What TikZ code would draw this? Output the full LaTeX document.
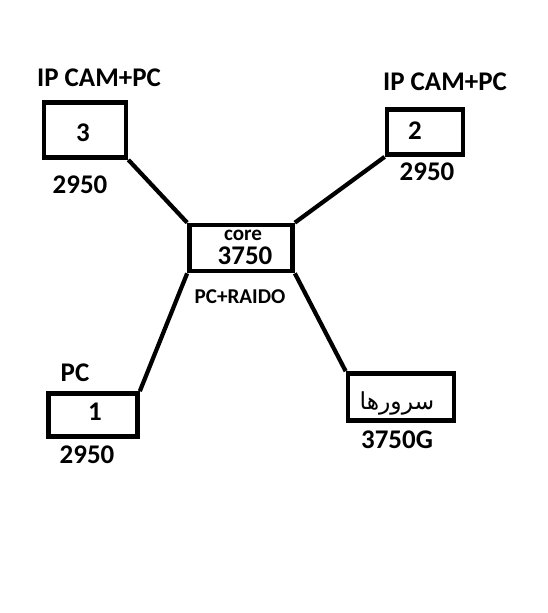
\documentclass[tikz,border=0pt]{standalone}
\usepackage{fontspec}
\setmainfont{Carlito}
\newfontfamily\arabicfont[Script=Arabic]{DejaVu Sans}
\TeXXeTstate=1
\usetikzlibrary{positioning}

\begin{document}
\begin{tikzpicture}[x=0.03cm, y=-0.03cm,
    box/.style={rectangle, draw=black, line width=4pt, inner sep=0pt},
    lbl/.style={font=\bfseries\fontsize{23}{27}\selectfont, inner sep=0pt},
    small/.style={font=\bfseries\fontsize{18}{21}\selectfont, inner sep=0pt},
    link/.style={line width=3.6pt}
]
\useasboundingbox (0,0) rectangle (547,613);

% switches
\node[box, minimum width=2.46cm, minimum height=1.65cm] (sw3) at (85,130) {};
\node[box, minimum width=2.28cm, minimum height=1.35cm] (sw2) at (425,132) {};
\node[box, minimum width=3.09cm, minimum height=1.38cm] (core) at (241,248) {};
\node[box, minimum width=2.67cm, minimum height=1.29cm] (sw1) at (93,415) {};
\node[box, minimum width=3.18cm, minimum height=1.41cm] (srv) at (401,397) {};

% texts in the boxes
\node[lbl] (n3) at (83,133) {3};
\node[lbl] (n2) at (415,131) {2};
\node[lbl] (n1) at (95,412) {1};
\node[small] (corename) at (243,235) {core};
\node[lbl] (coremodel) at (245,256) {3750};
\node[font=\arabicfont\fontsize{20}{24}\selectfont, inner sep=0pt] (srvname) at (397,403) {\beginR سرورها\endR};

% labels
\node[lbl] (top3) at (99,78) {IP CAM+PC};
\node[lbl] (top2) at (445,82) {IP CAM+PC};
\node[lbl] (top1) at (75,373) {PC};
\node[lbl] (m3) at (80,185) {2950};
\node[lbl] (m2) at (427,172) {2950};
\node[lbl] (m1) at (87,455) {2950};
\node[small] (coreuse) at (240,297) {PC+RAIDO};
\node[lbl] (msrv) at (397,440) {3750G};

% links
\draw[link] (sw3.south east) -- (core.north west);
\draw[link] (sw2.south west) -- (core.north east);
\draw[link] (core.south west) -- (sw1.north east);
\draw[link] (core.south east) -- (srv.north west);

\end{tikzpicture}
\end{document}
